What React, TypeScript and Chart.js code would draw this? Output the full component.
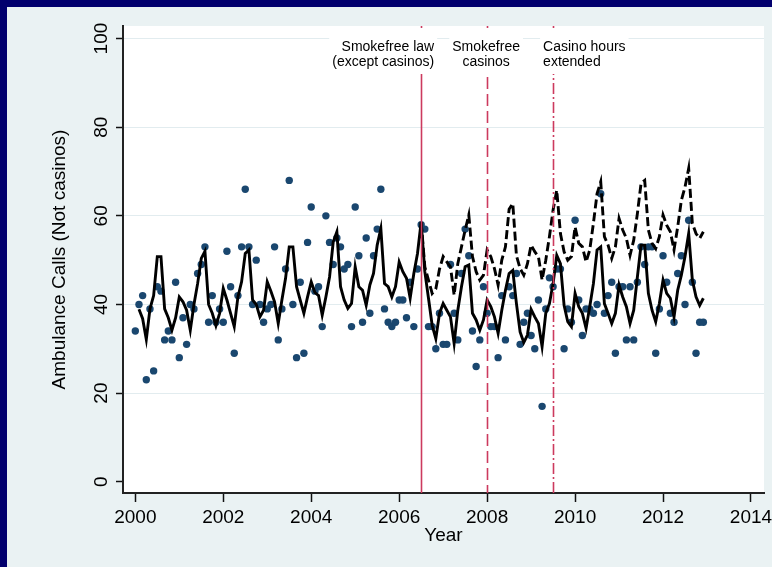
import React, { useEffect, useRef } from "react";
import { Chart, registerables } from "chart.js";

Chart.register(...registerables);

// ---------- data ----------
const START_YEAR = 2000;
const MONTHS_PER_YEAR = 12;

// observed monthly ambulance calls, Jan 2000 .. Dec 2012
const observedCalls: number[] = [
  34, 40, 42, 23, 39, 25, 44, 43, 32, 34, 32, 45,
  28, 37, 31, 40, 39, 47, 49, 53, 36, 42, 36, 39,
  36, 52, 44, 29, 42, 53, 66, 53, 40, 50, 40, 36,
  39, 40, 53, 32, 39, 48, 68, 40, 28, 45, 29, 54,
  62, 43, 44, 35, 60, 54, 49, 55, 53, 48, 49, 35,
  62, 51, 36, 55, 38, 51, 57, 66, 39, 36, 35, 36,
  41, 41, 37, 45, 35, 48, 58, 57, 35, 35, 30, 38,
  31, 31, 49, 38, 32, 47, 57, 51, 34, 26, 32, 44,
  38, 35, 35, 28, 42, 32, 44, 42, 47, 31, 36, 38,
  33, 30, 41, 17, 39, 46, 44, 48, 48, 30, 39, 36,
  59, 41, 33, 39, 39, 38, 40, 65, 38, 42, 45, 29,
  44, 44, 32, 44, 32, 45, 53, 49, 53, 53, 29, 39,
  51, 45, 38, 36, 47, 51, 40, 59, 45, 29, 36, 36,
];

// fitted model (solid line)
const fittedCalls: (number | null)[] = [
  null, 38.9, 36.8, 32.1, 39.0, 42.0, 50.8, 50.8, 39.0, 37.0, 34.2, 37.0,
  41.7, 40.6, 38.7, 34.2, 40.0, 44.7, 50.4, 52.0, 40.0, 38.0, 35.2, 38.0,
  43.6, 41.0, 38.0, 35.0, 41.7, 45.1, 51.5, 52.3, 41.0, 40.0, 37.2, 38.7,
  45.1, 43.0, 40.6, 35.7, 41.0, 45.9, 53.0, 53.0, 44.0, 41.0, 38.0, 41.7,
  45.1, 42.7, 42.0, 37.6, 41.7, 46.2, 54.1, 56.4, 44.0, 41.0, 39.1, 40.2,
  48.5, 44.0, 43.2, 39.8, 44.4, 47.0, 53.4, 57.1, 44.7, 44.0, 41.7, 44.0,
  49.6, 47.4, 45.9, 41.4, 47.0, 51.5, 58.6, 47.4, 41.4, 35.3, 32.3, 38.0,
  40.2, 38.7, 37.2, 31.2, 38.7, 44.0, 48.5, 48.9, 38.0, 36.5, 34.2, 36.5,
  41.0, 39.5, 37.2, 33.5, 38.7, 43.2, 47.0, 47.7, 40.2, 33.8, 31.4, 33.1,
  38.9, 37.2, 35.7, 30.5, 38.0, 40.2, 44.7, 51.1, 49.2, 39.8, 36.1, 35.0,
  42.5, 39.5, 38.0, 34.6, 39.5, 44.7, 52.3, 53.0, 40.2, 38.0, 35.7, 38.0,
  44.4, 41.7, 39.5, 35.7, 38.7, 46.2, 53.4, 53.4, 42.5, 38.7, 36.1, 40.2,
  45.5, 42.5, 41.4, 37.2, 43.2, 46.6, 50.8, 56.0, 45.5, 41.7, 39.8, 41.4,
];

// counterfactual (dashed line), from month index 78 (Jul 2006)
const COUNTERFACTUAL_START = 78;
const counterfactualCalls: number[] = [
  58.6, 48.5, 45.5, 42.5, 43.5, 48.0,
  50.8, 49.6, 48.5, 42.1, 49.2, 53.0, 56.8, 60.2, 50.8, 47.4, 45.5, 46.6,
  52.3, 50.8, 48.1, 44.4, 50.0, 53.0, 61.5, 62.8, 51.0, 48.1, 46.6, 49.2,
  53.4, 51.9, 50.8, 45.5, 50.0, 55.3, 61.3, 65.8, 56.0, 51.9, 50.0, 50.8,
  57.5, 53.8, 53.0, 49.6, 52.3, 58.3, 65.0, 67.7, 55.3, 53.4, 50.4, 53.0,
  59.4, 56.8, 54.9, 51.1, 54.5, 60.5, 67.3, 68.0, 56.8, 53.8, 52.6, 55.3,
  60.2, 57.9, 56.4, 52.3, 57.5, 63.5, 66.5, 70.7, 58.3, 56.0, 54.9, 56.4,
];

const xTickYears = [2000, 2002, 2004, 2006, 2008, 2010, 2012, 2014];
const yTickValues = [0, 20, 40, 60, 80, 100];

const eventYears = [2006.5, 2008.0, 2009.5];
const eventLabels = [
  ["Smokefree law", "(except casinos)"],
  ["Smokefree", "casinos"],
  ["Casino hours", "extended"],
];

const X_TITLE = "Year";
const Y_TITLE = "Ambulance Calls (Not casinos)";

// ---------- style ----------
const FONT = '"Liberation Sans", Arial, Helvetica, sans-serif';
const NAVY = "#02006E";
const OUTER_BG = "#EAF2F3";
const DOT = "#1A476F";
const EVENT_COLOR = "#CC3A5E";
const GRID = "#E2ECEF";
const eventDash = [[], [12, 5], [11, 3, 2, 3]];
const eventAlign: CanvasTextAlign[] = ["right", "center", "left"];
const eventDx = [13, -1, -10];

const toPoints = (arr: (number | null)[], offset: number) =>
  arr.map((v, i) => ({ x: START_YEAR + (i + offset) / MONTHS_PER_YEAR, y: v }));

const framePlugin = {
  id: "frame",
  beforeDraw(chart: any) {
    const { ctx, width, height, chartArea: a } = chart;
    ctx.save();
    ctx.fillStyle = OUTER_BG;
    ctx.fillRect(0, 0, width, height);
    ctx.fillStyle = NAVY;
    ctx.fillRect(0, 0, width, 7);
    ctx.fillRect(0, 0, 7, height);
    ctx.fillStyle = "#ffffff";
    ctx.fillRect(a.left, a.top, a.right - a.left, a.bottom - a.top);
    ctx.restore();
  },
  afterDatasetsDraw(chart: any) {
    const { ctx, chartArea: a } = chart;
    const xs = chart.scales.x;
    ctx.save();
    eventYears.forEach((yr, i) => {
      const px = Math.round(xs.getPixelForValue(yr)) + 0.5;
      ctx.strokeStyle = EVENT_COLOR;
      ctx.lineWidth = 1.6;
      ctx.setLineDash(eventDash[i]);
      ctx.beginPath();
      ctx.moveTo(px, a.top);
      ctx.lineTo(px, a.bottom);
      ctx.stroke();
    });
    ctx.setLineDash([]);
    ctx.font = `14px ${FONT}`;
    eventYears.forEach((yr, i) => {
      const px = xs.getPixelForValue(yr) + eventDx[i];
      const lines = eventLabels[i];
      const w = Math.max(...lines.map((l) => ctx.measureText(l).width));
      let left = px;
      if (eventAlign[i] === "right") left = px - w;
      else if (eventAlign[i] === "center") left = px - w / 2;
      ctx.fillStyle = "#ffffff";
      ctx.fillRect(left - 3, a.top + 2, w + 6, 46);
      ctx.fillStyle = "#000000";
      ctx.textAlign = eventAlign[i];
      ctx.textBaseline = "alphabetic";
      lines.forEach((l, j) => ctx.fillText(l, px, a.top + 25 + j * 14.5));
    });
    ctx.restore();
  },
  afterDraw(chart: any) {
    const { ctx, chartArea: a } = chart;
    const ys = chart.scales.y;
    ctx.save();
    ctx.font = `19px ${FONT}`;
    ctx.fillStyle = "#000000";
    ctx.textAlign = "center";
    ctx.textBaseline = "alphabetic";
    yTickValues.forEach((v) => {
      const py = ys.getPixelForValue(v);
      ctx.save();
      ctx.translate(a.left - 16, py);
      ctx.rotate(-Math.PI / 2);
      ctx.fillText(String(v), 0, 0);
      ctx.restore();
    });
    ctx.restore();
  },
};

export default function App() {
  const ref = useRef<HTMLCanvasElement>(null);

  useEffect(() => {
    document.body.style.margin = "0";
    const canvas = ref.current;
    if (!canvas) return;
    const chart = new Chart(canvas, {
      type: "scatter",
      data: {
        datasets: [
          {
            label: "Fitted",
            data: toPoints(fittedCalls, 0),
            showLine: true,
            borderColor: "#000000",
            borderWidth: 2.9,
            pointRadius: 0,
            tension: 0,
            spanGaps: false,
            order: 1,
          },
          {
            label: "Counterfactual",
            data: toPoints(counterfactualCalls, COUNTERFACTUAL_START),
            showLine: true,
            borderColor: "#000000",
            borderWidth: 2.9,
            borderDash: [9, 4],
            pointRadius: 0,
            tension: 0,
            order: 2,
          },
          {
            label: "Observed",
            data: toPoints(observedCalls, 0),
            showLine: false,
            pointRadius: 3.7,
            pointBackgroundColor: DOT,
            pointBorderWidth: 0,
            pointBorderColor: DOT,
            order: 3,
          },
        ],
      },
      options: {
        responsive: false,
        animation: false,
        events: [],
        layout: { padding: { top: 26, right: 8, left: 0, bottom: 0 } },
        plugins: {
          legend: { display: false },
          tooltip: { enabled: false },
        },
        scales: {
          x: {
            type: "linear",
            position: "bottom",
            min: 1999.72,
            max: 2014.296,
            afterBuildTicks: (s: any) => {
              s.ticks = xTickYears.map((v) => ({ value: v }));
            },
            afterFit: (s: any) => {
              s.height = 74;
              s.paddingLeft = 0;
              s.paddingRight = 0;
            },
            ticks: {
              color: "#000000",
              font: { family: FONT, size: 19 },
              padding: 4,
              autoSkip: false,
              maxRotation: 0,
              callback: (v: any) => String(v),
            },
            grid: {
              drawOnChartArea: false,
              drawTicks: true,
              tickLength: 9,
              tickColor: "#111111",
              tickWidth: 1.5,
            },
            border: { display: true, color: "#222222", width: 2 },
            title: {
              display: true,
              text: X_TITLE,
              color: "#000000",
              font: { family: FONT, size: 19 },
              padding: { top: 0, bottom: 20 },
            },
          },
          y: {
            type: "linear",
            position: "left",
            min: -2.55,
            max: 102.84,
            afterBuildTicks: (s: any) => {
              s.ticks = yTickValues.map((v) => ({ value: v }));
            },
            afterFit: (s: any) => {
              s.width = 123;
              s.paddingTop = 0;
              s.paddingBottom = 0;
            },
            ticks: { display: false },
            grid: {
              drawOnChartArea: true,
              drawTicks: true,
              tickLength: 7,
              color: (c: any) => (c.tick && c.tick.value === 0 ? "rgba(0,0,0,0)" : GRID),
              tickColor: "#111111",
              lineWidth: 1,
              tickWidth: 1.5,
            },
            border: { display: true, color: "#222222", width: 2 },
            title: {
              display: true,
              text: Y_TITLE,
              color: "#000000",
              font: { family: FONT, size: 19 },
              padding: { top: 48, bottom: 0 },
            },
          },
        },
      },
      plugins: [framePlugin],
    });
    return () => chart.destroy();
  }, []);

  return (
    <div style={{ position: "absolute", left: 0, top: 0, width: 772, height: 567 }}>
      <canvas ref={ref} width={772} height={567} style={{ display: "block" }} />
    </div>
  );
}
